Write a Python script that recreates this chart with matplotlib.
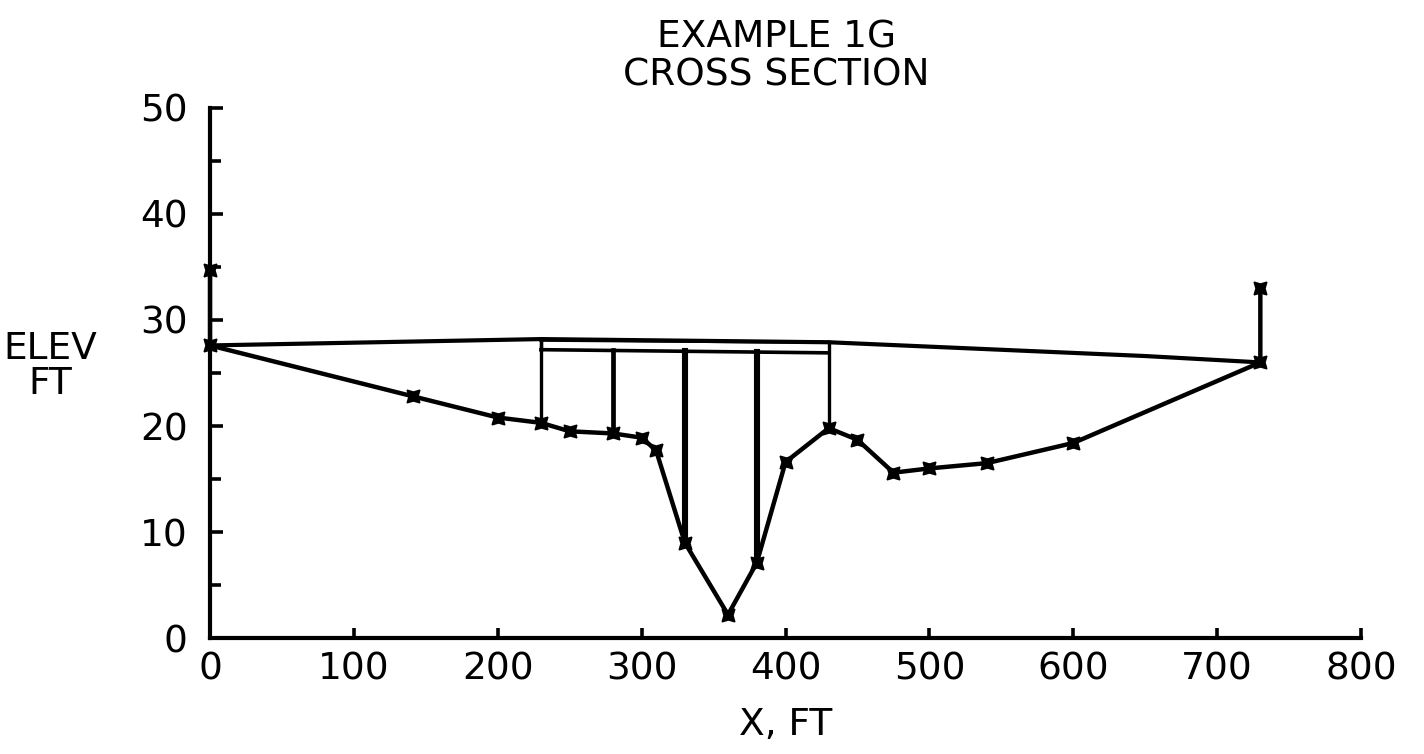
import matplotlib
matplotlib.use("Agg")
import matplotlib.pyplot as plt
from matplotlib.ticker import MultipleLocator

# ground profile (station, elevation)
ground_x = [0, 0, 141, 200, 230, 250, 280, 300, 310, 330, 360, 380, 400, 430,
            450, 475, 500, 540, 600, 730, 730]
ground_y = [34.7, 27.6, 22.8, 20.8, 20.3, 19.5, 19.3, 18.9, 17.7, 9.0, 2.2,
            7.1, 16.6, 19.8, 18.7, 15.6, 16.0, 16.5, 18.4, 26.0, 33.0]

# water surface across the section
ws_x = [0, 230, 430, 650, 730]
ws_y = [27.6, 28.2, 27.9, 26.6, 26.0]

# bridge deck
deck_x = [230, 430]
deck_top = [28.1, 27.9]
low_chord = [27.2, 26.9]

# piers: station, bottom elevation, line width
pier_x = [230, 280, 330, 380, 430]
pier_bot = [20.3, 19.3, 9.0, 7.1, 19.8]
pier_lw = [2.4, 3.4, 4.4, 4.4, 2.4]

FS = 27

fig = plt.figure(figsize=(14.24, 7.54), dpi=100)
ax = fig.add_axes([0.1475, 0.1538, 0.8083, 0.703])

ax.plot(ws_x, ws_y, color="black", lw=3.0, solid_capstyle="butt")
ax.plot(deck_x, deck_top, color="black", lw=2.4)
ax.plot(deck_x, low_chord, color="black", lw=2.6)
ax.plot([deck_x[0], deck_x[0]], [low_chord[0], deck_top[0]], color="black", lw=2.4)

for px, pb, plw in zip(pier_x, pier_bot, pier_lw):
    top = low_chord[0] + (low_chord[1] - low_chord[0]) * (px - deck_x[0]) / (deck_x[1] - deck_x[0])
    if px in (deck_x[0], deck_x[1]):
        top = deck_top[0] + (deck_top[1] - deck_top[0]) * (px - deck_x[0]) / (deck_x[1] - deck_x[0])
    ax.plot([px, px], [pb, top], color="black", lw=plw)

ax.plot(ground_x, ground_y, color="black", lw=3.2,
        marker=(4, 1, 45), markersize=13, markerfacecolor="black",
        markeredgecolor="black", clip_on=False, zorder=5)

ax.set_xlim(0, 800)
ax.set_ylim(0, 50)
ax.spines["top"].set_visible(False)
ax.spines["right"].set_visible(False)
for s in ("left", "bottom"):
    ax.spines[s].set_linewidth(3.0)

ax.xaxis.set_major_locator(MultipleLocator(100))
ax.yaxis.set_major_locator(MultipleLocator(10))
ax.yaxis.set_minor_locator(MultipleLocator(5))
ax.tick_params(axis="both", which="both", direction="in", width=2.6,
               labelsize=FS)
ax.tick_params(axis="x", which="major", length=7, pad=10)
ax.tick_params(axis="y", which="major", length=9, pad=16)
ax.tick_params(axis="y", which="minor", length=8)

ax.set_xlabel("X, FT", fontsize=FS, labelpad=14)

fig.text(0.545, 0.950, "EXAMPLE 1G", ha="center", va="center", fontsize=FS)
fig.text(0.545, 0.900, "CROSS SECTION", ha="center", va="center", fontsize=FS)
fig.text(0.035, 0.514, "ELEV\nFT", ha="center", va="center",
         multialignment="center", linespacing=0.95, fontsize=FS)

fig.savefig("out.png", dpi=100)
